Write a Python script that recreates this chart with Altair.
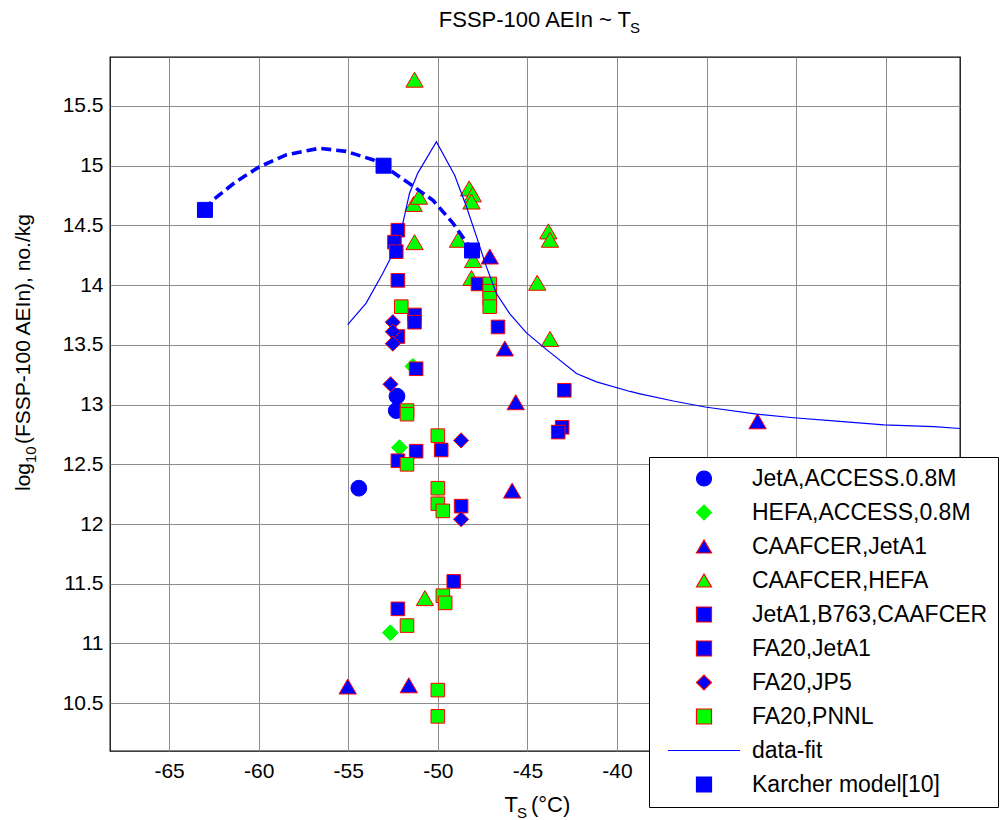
import altair as alt
import pandas as pd

FONT = "Liberation Sans"

# ---------------- data ----------------
series_names = ["JetA,ACCESS.0.8M", "HEFA,ACCESS,0.8M", "CAAFCER,JetA1", "CAAFCER,HEFA",
                "JetA1,B763,CAAFCER", "FA20,JetA1", "FA20,JP5", "FA20,PNNL",
                "data-fit", "Karcher model[10]"]

jeta_T = [-54.41, -52.28, -52.32]
jeta_Y = [12.30, 13.07, 12.95]

hefa_T = [-52.14, -52.65, -51.39]
hefa_Y = [12.64, 11.09, 13.32]

cj_T = [-47.10, -46.26, -45.65, -45.85, -55.03, -51.62, -32.15]
cj_Y = [14.24, 13.47, 13.02, 12.28, 10.64, 10.65, 12.86]

ch_T = [-51.30, -48.25, -48.05, -48.12, -51.35, -51.05, -51.30, -48.87, -48.03, -48.12,
        -43.83, -43.74, -44.45, -43.74, -50.72]
ch_Y = [15.72, 14.81, 14.76, 14.70, 14.68, 14.74, 14.36, 14.38, 14.21, 14.06,
        14.45, 14.38, 14.02, 13.55, 11.38]

b763_T = [-47.76, -46.64, -42.94, -43.06, -43.28]
b763_Y = [14.01, 13.65, 13.12, 12.81, 12.77]

fa20j_T = [-52.23, -52.42, -52.32, -52.23, -51.30, -51.30, -52.23, -51.21, -52.23, -51.21,
           -49.81, -48.70, -49.11, -52.23]
fa20j_Y = [14.46, 14.36, 14.28, 14.04, 13.75, 13.69, 13.57, 13.30, 12.53, 12.61,
           12.62, 12.15, 11.52, 11.29]

jp5_T = [-52.51, -52.51, -52.51, -52.64, -48.70, -48.70]
jp5_Y = [13.69, 13.61, 13.51, 13.17, 12.70, 12.04]

pnnl_T = [-52.04, -47.10, -47.10, -47.10, -47.10, -51.72, -51.72, -50.00, -51.72, -50.00,
          -50.00, -49.72, -49.72, -49.59, -51.72, -50.00, -50.00]
pnnl_Y = [13.82, 14.01, 13.95, 13.89, 13.82, 12.95, 12.92, 12.74, 12.50, 12.30,
          12.17, 12.11, 11.40, 11.34, 11.15, 10.61, 10.39]

karcher_T = [-63.00, -53.03, -48.09]
karcher_Y = [14.63, 15.00, 14.29]

karcher_curve_T = [-63.00, -62.58, -61.27, -59.97, -58.47, -56.61, -55.12, -53.63, -53.03,
                   -51.58, -50.27, -49.16, -48.41, -48.09]
karcher_curve_Y = [14.63, 14.71, 14.866, 14.99, 15.09, 15.146, 15.12, 15.05, 15.00,
                   14.85, 14.71, 14.52, 14.36, 14.29]

fit_T = [-55.03, -54.00, -53.07, -52.32, -51.95, -51.58, -51.11, -50.08, -49.06, -48.41,
         -47.85, -47.29, -46.73, -45.98, -45.05, -43.93, -42.26, -41.14, -39.27, -38.71,
         -36.85, -35.08, -32.19, -30.14, -28.09, -25.10, -22.30, -20.85]
fit_Y = [13.67, 13.85, 14.10, 14.32, 14.52, 14.77, 14.94, 15.20, 14.92, 14.66,
         14.41, 14.155, 13.93, 13.76, 13.60, 13.46, 13.26, 13.19, 13.11, 13.09,
         13.03, 12.98, 12.92, 12.89, 12.865, 12.83, 12.815, 12.80]

x_ticks = [-65, -60, -55, -50, -45, -40, -35, -30, -25]
y_ticks = [10.5, 11, 11.5, 12, 12.5, 13, 13.5, 14, 14.5, 15, 15.5]

title_main, title_sub = "FSSP-100 AEIn ~ T", "S"
xlab_main, xlab_sub, xlab_unit = "T", "S", "(°C)"
ylab_main, ylab_sub, ylab_rest = "log", "10", "(FSSP-100 AEIn),  no./kg"

# ---------------- styles ----------------
shapes = ["circle", "diamond", "triangle-up", "triangle-up", "square", "square",
          "diamond", "square", "M-4.8,0H4.8", "square"]
fills = ["#0000ff", "#00ff00", "#0000ff", "#00ff00", "#0000ff", "#0000ff",
         "#0000ff", "#00ff00", "transparent", "#0000ff"]
strokes = ["#0000ff", "#00ff00", "#ff0000", "#ff0000", "#ff0000", "#ff0000",
           "#ff0000", "#ff0000", "#0000ff", "#0000ff"]
sizes = [250, 250, 300, 300, 185, 185, 230, 185, 0, 225]

point_sets = [(jeta_T, jeta_Y), (hefa_T, hefa_Y), (cj_T, cj_Y), (ch_T, ch_Y),
              (b763_T, b763_Y), (fa20j_T, fa20j_Y), (jp5_T, jp5_Y), (pnnl_T, pnnl_Y)]

rows = []
for name, (ts, ys) in zip(series_names[:8], point_sets):
    for t, v in zip(ts, ys):
        rows.append({"T": t, "v": v, "series": name})
for t, v in zip(karcher_T, karcher_Y):
    rows.append({"T": t, "v": v, "series": series_names[9]})
pts = pd.DataFrame(rows)

fit_df = pd.DataFrame({"T": fit_T, "v": fit_Y})
kc_df = pd.DataFrame({"T": karcher_curve_T, "v": karcher_curve_Y})

xscale = alt.Scale(domain=[-68.3, -20.85], nice=False, zero=False)
yscale = alt.Scale(domain=[10.1, 15.91], nice=False, zero=False)
# labels right of -40 sit under the legend box in the reference
xaxis = alt.Axis(values=x_ticks, labelExpr="datum.value > -40 ? '' : '' + datum.value",
                 ticks=False, domain=False, grid=True, labelPadding=9, labelFontSize=21,
                 title=None)
yaxis = alt.Axis(values=y_ticks, labelExpr="'' + datum.value", ticks=False, domain=False,
                 grid=True, labelPadding=7, labelFontSize=21, title=None)

leg = alt.Legend(orient="none", legendX=539, legendY=400, zindex=2, title=None)

X = alt.X("T:Q", scale=xscale, axis=xaxis, title=None)
Y = alt.Y("v:Q", scale=yscale, axis=yaxis, title=None)
SH = alt.Shape("series:N", scale=alt.Scale(domain=series_names, range=shapes), legend=leg, title=None)
FI = alt.Fill("series:N", scale=alt.Scale(domain=series_names, range=fills), legend=leg, title=None)
ST = alt.Stroke("series:N", scale=alt.Scale(domain=series_names, range=strokes), legend=leg, title=None)

layers = []
for i, name in enumerate(series_names[:8]):
    layers.append(
        alt.Chart(pts).transform_filter(alt.datum.series == name)
        .mark_point(filled=True, size=sizes[i], strokeWidth=1, opacity=1)
        .encode(x=X, y=Y, shape=SH, fill=FI, stroke=ST)
    )

layers.append(alt.Chart(fit_df).mark_line(color="#0000ff", strokeWidth=1.2)
              .encode(x=X, y=Y))
layers.append(alt.Chart(kc_df).mark_line(color="#0000ff", strokeWidth=3.6, strokeDash=[10, 5])
              .encode(x=X, y=Y))
layers.append(
    alt.Chart(pts).transform_filter(alt.datum.series == series_names[9])
    .mark_point(filled=True, size=sizes[9], strokeWidth=1, opacity=1)
    .encode(x=X, y=Y, shape=SH, fill=FI, stroke=ST)
)


def txt(label, x, y, size, align, angle=0):
    return alt.Chart(pd.DataFrame({"label": [label]})).mark_text(
        x=x, y=y, fontSize=size, align=align, baseline="alphabetic", angle=angle,
        font=FONT, color="black"
    ).encode(text="label:N")


layers += [
    txt(title_main, 521, -30, 22, "right"),
    txt(title_sub, 520, -24, 15, "left"),
    txt(xlab_main, 408, 755, 22, "right"),
    txt(xlab_sub, 407, 761, 15, "left"),
    txt(xlab_unit, 421, 755, 22, "left"),
    txt(ylab_main, -80, 406, 21, "right", 270),
    txt(ylab_sub, -74, 406, 15, "left", 270),
    txt(ylab_rest, -80, 387, 21, "left", 270),
]

chart = alt.layer(*layers).properties(
    width=850, height=694,
    autosize=alt.AutoSizeParams(type="none"),
    padding={"left": 110, "top": 57, "right": 41, "bottom": 69},
    background="white",
).configure_view(
    stroke="black", strokeWidth=1.3
).configure_axis(
    labelFont=FONT, labelColor="black", gridColor="#8c8c8c", gridWidth=1, gridOpacity=1
).configure_legend(
    labelFont=FONT, labelFontSize=23, labelColor="black", labelLimit=400,
    symbolSize=225, symbolStrokeWidth=1.2, symbolOffset=33.5, labelOffset=36.5,
    rowPadding=10, padding=10, strokeColor="black", fillColor="white"
)

chart.save("out.html", embed_options={"renderer": "svg", "actions": False})
